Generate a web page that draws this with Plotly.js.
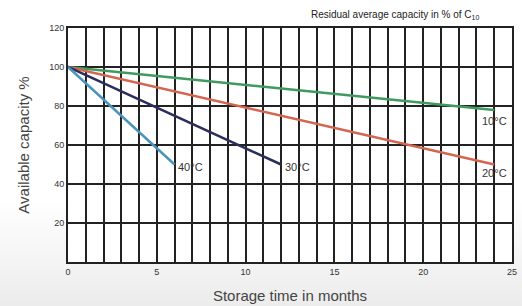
<!DOCTYPE html>
<html>
<head>
<meta charset="utf-8">
<script src="https://cdn.plot.ly/plotly-3.0.1.min.js"></script>
<style>
html,body{margin:0;padding:0;}
body{width:522px;height:306px;background:linear-gradient(to bottom,#ffffff 0%,#ffffff 65%,#ececec 100%);}
#chart{width:522px;height:306px;}
</style>
</head>
<body>
<div id="chart"></div>
<script>
// Data
var seriesNames = ["10°C", "20°C", "30°C", "40°C"];
var seriesMonths = [[0, 24], [0, 24], [0, 12], [0, 6]];
var seriesCapacity = [[100, 78], [100, 50], [100, 50], [100, 50]];
var seriesColors = ["#3f9a5e", "#d4654f", "#2b2d5c", "#4b93bb"];
var labelX = [24, 24, 12.1, 6.1];
var labelY = [72.5, 45.8, 48.8, 48.8];
var labelAnchor = ["center", "center", "left", "left"];

var xTickVals = [];
var xTickText = [];
for (var i = 0; i <= 25; i++) { xTickVals.push(i); xTickText.push(i % 5 === 0 ? String(i) : ""); }
var yTickVals = [20, 40, 60, 80, 100, 120];
var yTickText = ["20", "40", "60", "80", "100", "120"];

var FONT = "Liberation Sans, Arial, sans-serif";

var traces = seriesNames.map(function (n, k) {
  return {
    x: seriesMonths[k], y: seriesCapacity[k], name: n, mode: "lines",
    type: "scatter", line: {color: seriesColors[k], width: 2.5}, hoverinfo: "skip"
  };
});

var annotations = seriesNames.map(function (n, k) {
  return {
    x: labelX[k], y: labelY[k], xref: "x", yref: "y", text: n, showarrow: false,
    xanchor: labelAnchor[k], yanchor: "middle",
    font: {family: FONT, size: 11, color: "#333"}
  };
});

var layout = {
  width: 522, height: 306,
  margin: {l: 68, r: 10, t: 28, b: 44},
  paper_bgcolor: "rgba(0,0,0,0)",
  plot_bgcolor: "#ffffff",
  showlegend: false,
  title: {
    text: "Residual average capacity in % of C<sub>10</sub>",
    x: 0.757, xanchor: "center", y: 0.952, yanchor: "middle",
    font: {family: FONT, size: 10, color: "#222"}
  },
  xaxis: {
    range: [0, 25], tickvals: xTickVals, ticktext: xTickText,
    showgrid: true, gridcolor: "#222", gridwidth: 2,
    showline: true, linecolor: "#222", linewidth: 2, mirror: true,
    zeroline: false, ticks: "", ticklen: 0,
    tickfont: {family: FONT, size: 9, color: "#333"},
    title: {text: "Storage time in months", standoff: 15,
      font: {family: FONT, size: 15, color: "#444"}}
  },
  yaxis: {
    range: [0, 120], tickvals: yTickVals, ticktext: yTickText,
    showgrid: true, gridcolor: "#222", gridwidth: 2,
    showline: true, linecolor: "#222", linewidth: 2, mirror: true,
    zeroline: false, ticks: "", ticklen: 0,
    tickfont: {family: FONT, size: 9, color: "#333"},
    title: {text: "Available capacity %", standoff: 16,
      font: {family: FONT, size: 15, color: "#444"}}
  },
  annotations: annotations
};

Plotly.newPlot("chart", traces, layout, {displayModeBar: false, staticPlot: true});
</script>
</body>
</html>
